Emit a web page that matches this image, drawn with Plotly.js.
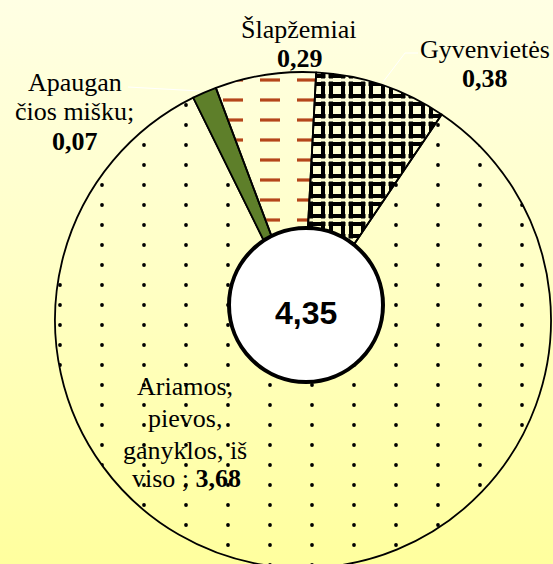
<!DOCTYPE html>
<html>
<head>
<meta charset="utf-8">
<script src="https://cdn.plot.ly/plotly-3.0.1.min.js"></script>
<style>
html,body{margin:0;padding:0;overflow:hidden;width:553px;height:564px;}
body{background:linear-gradient(to bottom,#FFFFE4 0%,#FFFFC4 50%,#FFFF9E 100%);}
#chart{width:553px;height:600px;}
</style>
</head>
<body>
<div id="chart"></div>
<script>
// ---- data ----
var categories = ["Ariamos, pievos, ganyklos, iš viso", "Apaugančios mišku", "Šlapžemiai", "Gyvenvietės"];
var values = [3.68, 0.07, 0.29, 0.38];
var valueLabels = ["3,68", "0,07", "0,29", "0,38"];
var totalLabel = "4,35";

// ---- layout helpers ----
var W = 553, H = 600;
function px(x){return x / W;}
function py(y){return (H - y) / H;}
var serif = "Liberation Serif, Times New Roman, serif";
var FS = 26;

var trace = {
  type: "pie",
  labels: categories,
  values: values,
  sort: false,
  direction: "clockwise",
  rotation: 34,
  textinfo: "none",
  hoverinfo: "label+value",
  showlegend: false,
  domain: {x: [px(303 - 248), px(303 + 248)], y: [py(320 + 248), py(320 - 248)]},
  marker: {
    colors: ["rgba(0,0,0,0)", "#5E7F2A", "rgba(0,0,0,0)", "rgba(0,0,0,0)"],
    line: {color: "#000000", width: 1.8},
    pattern: {
      shape: [".", "", "-", "+"],
      fgcolor: ["#000000", "#5E7F2A", "#B5461A", "#000000"],
      bgcolor: ["rgba(0,0,0,0)", "#5E7F2A", "rgba(0,0,0,0)", "rgba(0,0,0,0)"],
      size: [29, 10, 20, 20],
      solidity: [0.02, 0.3, 0.15, 0.3],
      fillmode: "replace"
    }
  }
};

function ann(text, x, y, size, bold, font) {
  return {
    text: bold ? "<b>" + text + "</b>" : text,
    x: px(x), y: py(y), xref: "paper", yref: "paper",
    xanchor: "center", yanchor: "middle", showarrow: false,
    font: {family: font || serif, size: size, color: "#000000"}
  };
}

var annotations = [
  ann(categories[2], 299, 29, FS, false),
  ann(valueLabels[2], 300, 58, FS, true),
  ann("Gyvenvietės", 485, 49, FS, false),
  ann(valueLabels[3], 485, 78, FS, true),
  ann("Apaugan", 75, 82, FS, false),
  ann("čios mišku;", 74, 112, FS, false),
  ann(valueLabels[1], 75, 141, FS, true),
  ann("Ariamos,", 185, 386, FS, false),
  ann("pievos,", 185, 418, FS, false),
  ann("ganyklos, iš", 185, 450, FS, false),
  ann("viso ; <b>" + valueLabels[0] + "</b>", 186, 478, FS, false),
  ann(totalLabel, 306, 313, 32, true, "Liberation Sans, Arial, sans-serif")
];

var shapes = [
  {type: "line", xref: "paper", yref: "paper", x0: px(128), y0: py(87), x1: px(200), y1: py(91), line: {color: "#FFFFFF", width: 1}},
  {type: "line", xref: "paper", yref: "paper", x0: px(418), y0: py(53), x1: px(405), y1: py(53), line: {color: "#FFFFFF", width: 1}},
  {type: "line", xref: "paper", yref: "paper", x0: px(405), y0: py(53), x1: px(383), y1: py(82), line: {color: "#FFFFFF", width: 1}},
  {type: "circle", xref: "paper", yref: "paper", x0: px(306 - 77), x1: px(306 + 77), y0: py(305 + 77), y1: py(305 - 77),
   fillcolor: "#FFFFFF", line: {color: "#000000", width: 4}, layer: "above"}
];

var layout = {
  width: W, height: H,
  margin: {l: 0, r: 0, t: 0, b: 0},
  paper_bgcolor: "rgba(0,0,0,0)",
  plot_bgcolor: "rgba(0,0,0,0)",
  annotations: annotations,
  shapes: shapes,
  showlegend: false
};

// refine the fill textures (dot grid, dashed lines, ring grid) to match the original hatching
function refinePatterns() {
  var pats = document.querySelectorAll("#chart pattern");
  pats.forEach(function (p) {
    var circ = p.querySelector("circle");
    var path = p.querySelector("path");
    if (circ) {
      p.setAttribute("width", 42); p.setAttribute("height", 20);
      p.setAttribute("x", -3); p.setAttribute("y", -5);
      circ.setAttribute("cx", 21); circ.setAttribute("cy", 10); circ.setAttribute("r", 1.9);
    } else if (path) {
      var stroke = (window.getComputedStyle(path).stroke || "") + " " + (path.getAttribute("stroke") || "") + " " + (path.getAttribute("style") || "");
      stroke = stroke.toLowerCase();
      var isBrown = stroke.indexOf("181") >= 0 || stroke.indexOf("b5461a") >= 0;
      if (isBrown) {
        // horizontal dashes
        p.setAttribute("width", 37); p.setAttribute("height", 20);
        p.setAttribute("x", 1); p.setAttribute("y", -10);
        path.setAttribute("d", "M0,10H20");
        path.style.strokeWidth = "3.2px"; path.setAttribute("stroke-width", "3.2");
      } else {
        // ring grid
        p.setAttribute("width", 20); p.setAttribute("height", 20);
        p.setAttribute("x", 7); p.setAttribute("y", 0);
        path.setAttribute("d", "M1.5,4H18.5M1.5,16H18.5M4,1.5V18.5M16,1.5V18.5");
        path.style.strokeWidth = "4px"; path.setAttribute("stroke-width", "4");
      }
    }
  });
}

Plotly.newPlot("chart", [trace], layout, {displayModeBar: false, staticPlot: true}).then(refinePatterns);
</script>
</body>
</html>
